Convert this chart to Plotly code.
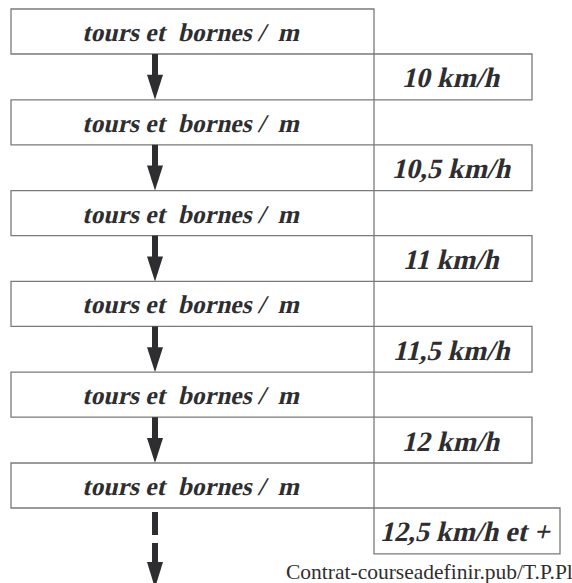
import plotly.graph_objects as go

# ---- data ----
step_labels = ["tours et\u00a0 bornes /\u00a0 m"] * 6
speed_labels = ["10 km/h", "10,5 km/h", "11 km/h", "11,5 km/h", "12 km/h", "12,5 km/h et +"]
footer_text = "Contrat-courseadefinir.pub/T.P.Pl"

# ---- layout constants ----
W, H = 572, 583
LX0, LX1 = 11, 374
TOP0, STEP, BH = 9, 90.8, 45
RX1 = 532
RX1_LAST = 560
AX = 155
BORDER = "#7a7a7a"
INK = "#2e2e30"
FONT = "'Liberation Serif', serif"

shapes = []
annotations = []

n = len(step_labels)
for i in range(n):
    y0 = TOP0 + i * STEP
    y1 = y0 + BH
    shapes.append(dict(type="rect", x0=LX0, x1=LX1, y0=y0, y1=y1,
                       line=dict(color=BORDER, width=1.3), fillcolor="white"))
    annotations.append(dict(x=(LX0 + LX1) / 2, y=(y0 + y1) / 2 + 1, text=step_labels[i],
                            showarrow=False, xanchor="center", yanchor="middle",
                            font=dict(family=FONT, size=25.5, color=INK, weight="bold")))
    # right speed box
    ry0 = y1
    ry1 = y1 + (STEP - BH)
    rx1 = RX1_LAST if i == n - 1 else RX1
    shapes.append(dict(type="rect", x0=LX1, x1=rx1, y0=ry0, y1=ry1,
                       line=dict(color=BORDER, width=1.3), fillcolor="white"))
    annotations.append(dict(x=(LX1 + rx1) / 2, y=(ry0 + ry1) / 2 + 1, text=speed_labels[i],
                            showarrow=False, xanchor="center", yanchor="middle",
                            font=dict(family=FONT, size=28, color=INK, weight="bold")))
    # arrow
    head_y1 = ry1
    head_y0 = head_y1 - 25
    if i < n - 1:
        shapes.append(dict(type="rect", x0=AX - 3, x1=AX + 3, y0=y1, y1=head_y0 + 1,
                           line=dict(width=0), fillcolor=INK))
        shapes.append(dict(type="path",
                           path=f"M {AX-8},{head_y0} L {AX+8},{head_y0} L {AX},{head_y1} Z",
                           line=dict(width=0), fillcolor=INK))
    else:
        shapes.append(dict(type="rect", x0=AX - 3, x1=AX + 3, y0=y1 + 4, y1=y1 + 27,
                           line=dict(width=0), fillcolor=INK))
        shapes.append(dict(type="rect", x0=AX - 3, x1=AX + 3, y0=y1 + 35, y1=y1 + 55,
                           line=dict(width=0), fillcolor=INK))
        shapes.append(dict(type="path",
                           path=f"M {AX-8},{y1+54} L {AX+8},{y1+54} L {AX},{y1+80} Z",
                           line=dict(width=0), fillcolor=INK))

annotations.append(dict(x=284, y=572, text=footer_text, showarrow=False,
                        xanchor="left", yanchor="middle",
                        font=dict(family=FONT, size=21.5, color=INK)))

fig = go.Figure()
fig.update_layout(
    width=W, height=H,
    margin=dict(l=0, r=0, t=0, b=0),
    paper_bgcolor="white", plot_bgcolor="white",
    xaxis=dict(range=[0, W], visible=False, fixedrange=True),
    yaxis=dict(range=[H, 0], visible=False, fixedrange=True),
    shapes=shapes, annotations=annotations, showlegend=False,
)

# the serif italic faces are not installed: slant the bold serif labels instead
post = """
document.body.style.margin='0';
document.body.style.overflow='hidden';
document.querySelectorAll('text.annotation-text').forEach(function(el){
  if (el.textContent.indexOf('Contrat') === 0) return;
  el.style.transformBox = 'fill-box';
  el.style.transformOrigin = 'center';
  el.style.transform = 'skewX(-13deg)';
});
"""
fig.write_html("out.html", config={"displayModeBar": False}, post_script=post)
